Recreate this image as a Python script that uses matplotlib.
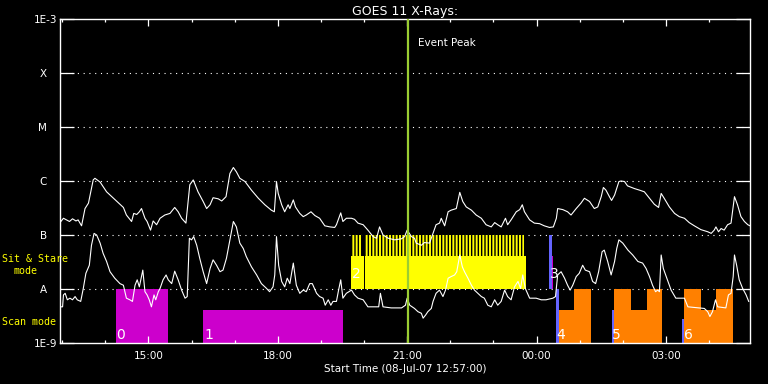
import numpy as np
import matplotlib
matplotlib.use('Agg')
import matplotlib.pyplot as plt
from matplotlib.ticker import NullLocator

# ---------------- data (time in hours since 08-Jul-07 00:00, flux as log10 W/m^2) -------------
long_t = [12.95, 13.03, 13.10, 13.17, 13.24, 13.32, 13.37, 13.45, 13.53, 13.61, 13.72, 13.76, 13.88,
          14.03, 14.19, 14.42, 14.49, 14.61, 14.66, 14.73, 14.79, 14.84, 14.92, 14.97, 15.05, 15.11,
          15.19, 15.27, 15.38, 15.50, 15.61, 15.69, 15.77, 15.87, 15.96, 16.04, 16.15, 16.27, 16.35,
          16.43, 16.50, 16.62, 16.70, 16.80, 16.89, 16.97, 17.04, 17.12,
          17.24, 17.39, 17.55, 17.70, 17.85, 17.92, 17.97, 18.01, 18.09, 18.16, 18.24, 18.28, 18.36,
          18.41, 18.51, 18.59, 18.66, 18.77, 18.86, 18.97, 19.09, 19.21, 19.32, 19.36, 19.40, 19.46,
          19.51, 19.59, 19.71, 19.78, 19.86, 19.98, 20.09, 20.21, 20.29, 20.36, 20.44, 20.56, 20.71,
          20.87, 20.94, 21.00, 21.10, 21.17,
          21.21, 21.33, 21.40, 21.52, 21.60, 21.67, 21.75, 21.79, 21.87, 21.95, 22.02, 22.14, 22.22,
          22.29, 22.37, 22.49, 22.60, 22.72, 22.83, 22.95, 23.03, 23.10, 23.18, 23.28, 23.33, 23.41,
          23.53, 23.61, 23.67, 23.72, 23.84, 23.95, 24.07, 24.18, 24.30, 24.39, 24.46, 24.49, 24.61,
          24.72, 24.80, 24.92, 25.03, 25.11, 25.23,
          25.34, 25.42, 25.50, 25.55, 25.61, 25.69, 25.74, 25.81, 25.91, 25.96, 26.04, 26.11, 26.27,
          26.39, 26.50, 26.62, 26.73, 26.83, 26.89, 26.96, 27.08, 27.20, 27.31, 27.43, 27.54, 27.66,
          27.81, 27.97, 28.05, 28.12, 28.16, 28.22, 28.28, 28.35, 28.43, 28.51, 28.59, 28.66, 28.74,
          28.82, 28.90, 28.95]
long_logf = [-6.77, -6.69, -6.72, -6.75, -6.70, -6.74, -6.72, -6.83, -6.51, -6.41, -5.98, -5.95, -6.02,
             -6.20, -6.32, -6.49, -6.63, -6.75, -6.60, -6.62, -6.57, -6.51, -6.69, -6.75, -6.91, -6.74,
             -6.81, -6.69, -6.63, -6.60, -6.49, -6.57, -6.69, -6.78, -6.07, -5.98, -6.20, -6.38, -6.51,
             -6.44, -6.31, -6.33, -6.37, -6.29, -5.86, -5.75, -5.83, -5.95,
             -6.01, -6.17, -6.32, -6.44, -6.54, -6.57, -6.01, -6.23, -6.44, -6.57, -6.44, -6.51, -6.35,
             -6.48, -6.60, -6.66, -6.63, -6.57, -6.64, -6.69, -6.83, -6.85, -6.86, -6.81, -6.72, -6.59,
             -6.75, -6.69, -6.69, -6.71, -6.78, -6.81, -6.91, -7.03, -7.06, -6.85, -7.00, -7.06, -7.09,
             -7.07, -7.03, -6.91, -7.03, -7.06,
             -7.15, -7.19, -7.14, -7.15, -6.97, -6.81, -6.78, -6.69, -6.83, -6.57, -6.54, -6.51, -6.21,
             -6.38, -6.48, -6.54, -6.63, -6.69, -6.81, -6.85, -6.77, -6.81, -6.85, -6.69, -6.81, -6.72,
             -6.57, -6.53, -6.44, -6.57, -6.72, -6.78, -6.79, -6.83, -6.86, -6.85, -6.69, -6.51, -6.53,
             -6.57, -6.63, -6.51, -6.41, -6.32, -6.38,
             -6.51, -6.48, -6.29, -6.12, -6.17, -6.29, -6.36, -6.26, -6.01, -6.00, -6.01, -6.09, -6.14,
             -6.17, -6.20, -6.32, -6.43, -6.49, -6.23, -6.32, -6.48, -6.60, -6.66, -6.69, -6.77, -6.83,
             -6.90, -6.94, -6.97, -6.91, -6.85, -6.94, -6.88, -6.91, -6.81, -6.78, -6.29, -6.44, -6.66,
             -6.75, -6.81, -6.83]

short_t = [12.95, 13.01, 13.03, 13.07, 13.12, 13.18, 13.24, 13.30, 13.35, 13.43, 13.49, 13.55, 13.63,
           13.68, 13.74, 13.80, 13.88, 13.95, 14.03, 14.11, 14.22, 14.34, 14.42, 14.49, 14.57, 14.63,
           14.69, 14.74, 14.79, 14.87, 14.92, 14.97, 15.02, 15.07, 15.13, 15.17, 15.23, 15.27, 15.34,
           15.41, 15.46, 15.54, 15.61, 15.69, 15.77, 15.85, 15.90, 15.95, 16.00, 16.05, 16.12, 16.19,
           16.27, 16.35, 16.43, 16.50, 16.58, 16.66, 16.73, 16.81, 16.89, 16.97, 17.04, 17.12,
           17.20, 17.27, 17.39, 17.51, 17.62, 17.74, 17.81, 17.89, 17.93, 17.97, 18.02, 18.09, 18.16,
           18.22, 18.28, 18.36, 18.43, 18.51, 18.59, 18.66, 18.74, 18.80, 18.90, 18.97, 19.05, 19.10,
           19.17, 19.23, 19.28, 19.36, 19.41, 19.46, 19.51, 19.59, 19.71, 19.78, 19.86, 19.98, 20.09,
           20.34, 20.38, 20.44, 20.63, 20.87, 20.96, 21.00, 21.06,
           21.17, 21.25, 21.33, 21.37, 21.43, 21.48, 21.56, 21.60, 21.67, 21.75, 21.83, 21.89, 21.95,
           22.02, 22.10, 22.15, 22.22, 22.28, 22.33, 22.41, 22.49, 22.56, 22.64, 22.72, 22.79, 22.87,
           22.95, 23.03, 23.10, 23.18, 23.26, 23.33, 23.41, 23.49, 23.57, 23.63, 23.68, 23.74, 23.84,
           23.99, 24.11, 24.22, 24.38, 24.44, 24.49, 24.57, 24.65, 24.72, 24.78, 24.84, 24.92, 24.99,
           25.07, 25.13, 25.23,
           25.30, 25.37, 25.44, 25.52, 25.57, 25.65, 25.73, 25.81, 25.86, 25.91, 26.00, 26.12, 26.23,
           26.35, 26.46, 26.54, 26.62, 26.69, 26.76, 26.81, 26.85, 26.89, 26.94, 27.02, 27.12, 27.23,
           27.43, 27.51, 27.89, 27.97, 28.02, 28.08, 28.15, 28.20, 28.39, 28.45, 28.51, 28.56, 28.59,
           28.64, 28.70, 28.78, 28.86, 28.92]
short_logf = [-8.33, -8.33, -8.11, -8.08, -8.20, -8.17, -8.20, -8.14, -8.20, -8.23, -7.99, -7.71, -7.56,
              -7.19, -6.97, -7.00, -7.15, -7.34, -7.49, -7.68, -7.80, -7.90, -7.93, -8.17, -8.20, -8.23,
              -7.93, -7.83, -7.96, -7.65, -8.05, -8.11, -8.20, -8.33, -8.11, -8.20, -8.05, -7.99, -7.83,
              -7.74, -7.83, -7.90, -7.67, -7.83, -8.02, -8.17, -8.14, -7.06, -7.09, -7.03, -7.19, -7.43,
              -7.68, -7.90, -7.62, -7.46, -7.56, -7.68, -7.65, -7.43, -7.09, -6.75, -6.85, -7.15,
              -7.25, -7.40, -7.59, -7.74, -7.90, -7.99, -8.05, -7.96, -7.74, -7.03, -7.56, -7.86, -7.96,
              -7.80, -7.90, -7.52, -7.93, -8.08, -8.02, -8.05, -7.90, -7.90, -8.08, -8.14, -8.17, -8.30,
              -8.20, -8.30, -8.23, -8.23, -8.02, -7.83, -8.17, -8.08, -8.02, -8.11, -8.17, -8.20, -8.33,
              -8.33, -8.08, -8.33, -8.35, -8.35, -8.30, -8.17, -8.30,
              -8.36, -8.42, -8.45, -8.54, -8.48, -8.42, -8.36, -8.23, -8.08, -8.02, -8.14, -8.02, -7.80,
              -7.77, -7.74, -7.68, -7.37, -7.59, -7.68, -7.80, -7.93, -8.02, -8.08, -8.14, -8.17, -8.30,
              -8.33, -8.20, -8.30, -8.23, -8.02, -8.14, -8.20, -7.96, -7.86, -7.99, -7.74, -7.99, -8.17,
              -8.17, -8.20, -8.20, -8.17, -8.14, -7.74, -7.68, -7.80, -7.93, -8.02, -7.93, -7.77, -7.71,
              -7.56, -7.65, -7.68,
              -7.86, -7.90, -7.68, -7.31, -7.28, -7.49, -7.74, -7.49, -7.25, -7.09, -7.15, -7.28, -7.37,
              -7.49, -7.52, -7.62, -7.77, -7.93, -8.05, -8.02, -8.05, -7.37, -7.62, -7.80, -8.02, -8.17,
              -8.17, -8.33, -8.36, -8.42, -8.51, -8.42, -8.20, -8.33, -8.35, -8.11, -8.08, -7.77, -7.37,
              -7.56, -7.83, -7.99, -8.11, -8.23]

# observing blocks: start, end (hours), low/high (log10), colour
block_start = [14.24, 16.26, 24.28, 24.35, 24.45, 24.51, 24.88, 25.74, 25.80, 26.19, 26.55,
               27.38, 27.43, 27.81, 28.17]
block_end = [15.445, 19.52, 24.35, 24.39, 24.51, 24.88, 25.27, 25.80, 26.19, 26.55, 26.92,
             27.43, 27.81, 28.17, 28.56]
block_low = [-9, -9, -8, -8, -9, -9, -9, -9, -9, -9, -9, -9, -9, -9, -9]
block_high = [-8, -8.38, -7, -7.38, -8, -8.38, -8, -8.38, -8, -8.38, -8, -8.56, -8, -8.38, -8]
block_color = ['#CC00CC', '#CC00CC', '#6464FF', '#CC00CC', '#6464FF', '#FF8000', '#FF8000',
               '#6464FF', '#FF8000', '#FF8000', '#FF8000', '#6464FF', '#FF8000', '#FF8000', '#FF8000']

# sit & stare block (yellow): solid lower band + striped upper band
ss_start = [19.69, 20.03]
ss_end = [19.99, 23.76]
ss_levels = [-8, -7.38, -7]

block_labels = ['0', '1', '2', '3', '4', '5', '6']
label_t = [14.26, 16.31, 19.73, 24.32, 24.46, 25.76, 27.41]
label_logy = [-8.92, -8.92, -7.80, -7.80, -8.92, -8.92, -8.92]

event_peak_t = 21.01
class_levels = [1e-9, 1e-8, 1e-7, 1e-6, 1e-5, 1e-4, 1e-3]
class_labels = ['1E-9', 'A', 'B', 'C', 'M', 'X', '1E-3']
xtick_pos = [15, 18, 21, 24, 27]
xtick_labels = ['15:00', '18:00', '21:00', '00:00', '03:00']
t_start, t_end = 12.95, 28.95

# ---------------- figure ----------------
plt.rcParams['hatch.linewidth'] = 1.0
W, H = 768, 384
fig = plt.figure(figsize=(W / 100, H / 100), dpi=100, facecolor='black')
ax = fig.add_axes([60 / W, 1 - 343 / H, 690 / W, 324 / H])
ax.set_facecolor('black')
ax.set_yscale('log')
ax.set_xlim(t_start, t_end)
ax.set_ylim(class_levels[0], class_levels[-1])

# gridlines
for lv in class_levels[1:-1]:
    ax.axhline(lv, color='white', lw=0.8, ls=(0, (1, 4.2)), zorder=0.5)

# scan blocks
for s, e, lo, hi, c in zip(block_start, block_end, block_low, block_high, block_color):
    ax.bar(s, 10 ** hi - 10 ** lo, bottom=10 ** lo, width=e - s, align='edge',
           color=c, linewidth=0, zorder=1)

# sit & stare
for s, e in zip(ss_start, ss_end):
    ax.bar(s, 10 ** ss_levels[1] - 10 ** ss_levels[0], bottom=10 ** ss_levels[0], width=e - s,
           align='edge', color='#FFFF00', linewidth=0, zorder=1)
    ax.bar(s, 10 ** ss_levels[2] - 10 ** ss_levels[1], bottom=10 ** ss_levels[1], width=e - s - 0.04,
           align='edge', facecolor='#FFFF00', edgecolor='black', hatch='|||||', linewidth=0, zorder=1)

for lab, t, ly in zip(block_labels, label_t, label_logy):
    ax.text(t, 10 ** ly, lab, color='white', fontsize=10, ha='left', va='baseline', zorder=2)

# curves
ax.plot(long_t, 10 ** np.array(long_logf), color='white', lw=0.8, zorder=3)
ax.plot(short_t, 10 ** np.array(short_logf), color='white', lw=0.8, zorder=3)

# event peak
ax.axvline(event_peak_t, color='#9ACD32', lw=1.6, zorder=4)
ax.annotate('Event Peak', xy=(event_peak_t, class_levels[-1]), xytext=(7.5, -17),
            textcoords='offset points', color='white', fontsize=7.5, va='center', ha='left')

# axes styling
for sp in ax.spines.values():
    sp.set_color('white')
    sp.set_linewidth(1.0)
ax.set_yticks(class_levels)
ax.set_yticklabels(class_labels)
ax.yaxis.set_minor_locator(NullLocator())
ax.tick_params(axis='y', which='major', direction='in', left=True, right=True, length=10,
               width=0.9, colors='white', labelsize=7.5)
for tk, lab in zip(ax.yaxis.get_major_ticks(), class_labels):
    tk.set_pad(2 if lab.startswith('1E') else 9.5)

ax.set_xticks(xtick_pos)
ax.set_xticklabels(xtick_labels)
ax.set_xticks(np.arange(13, 29), minor=True)
ax.tick_params(axis='x', which='major', direction='in', top=True, bottom=True, length=5,
               width=0.9, colors='white', labelsize=7.5, pad=6)
ax.tick_params(axis='x', which='minor', direction='in', top=True, bottom=True, length=2.5,
               width=0.9, colors='white')
ax.set_xlabel('Start Time (08-Jul-07 12:57:00)', color='white', fontsize=7.5, labelpad=2)
ax.set_title('GOES 11 X-Rays:', color='white', fontsize=9, pad=3)

mono = 'DejaVu Sans Mono'
fig.text(2 / W, 1 - 258.5 / H, 'Sit & Stare', color='#FFFF00', fontsize=7.2, family=mono,
         va='center', ha='left')
fig.text(13 / W, 1 - 271 / H, 'mode', color='#FFFF00', fontsize=7.2, family=mono,
         va='center', ha='left')
fig.text(2 / W, 1 - 322 / H, 'Scan mode', color='#FFFF00', fontsize=7.2, family=mono,
         va='center', ha='left')

fig.savefig('out.png', dpi=100, facecolor='black')
